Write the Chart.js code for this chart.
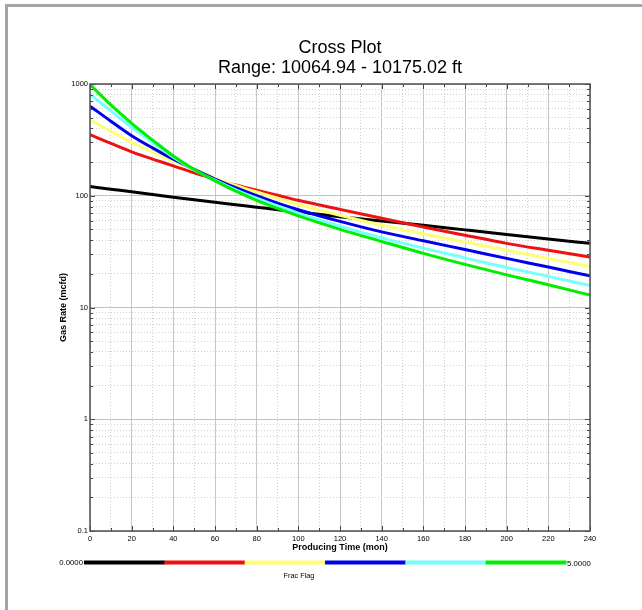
<!DOCTYPE html>
<html><head><meta charset="utf-8">
<script src="https://cdn.jsdelivr.net/npm/chart.js@4.4.0/dist/chart.umd.min.js"></script>
<style>html,body{margin:0;padding:0;background:#fff;}#wrap{position:absolute;left:0;top:0;width:642px;height:610px;}</style>
</head><body><div id="wrap"><canvas id="c" width="642" height="610"></canvas></div>
<script>
// ---- data ----
const months = [0,10,20,30,40,50,60,70,80,90,100,120,140,160,180,200,220,240];
const rateFlag0 = [121,114.5,108.5,102.5,97,92,87.5,83,79,75,71.5,65,59.5,54.5,49.5,45,41,37.5];
const rateFlag1 = [352,294,247,213,185,160,141,125,112,101,91,75.5,63,52.5,44.3,37.5,32.5,28.3];
const rateFlag2 = [481,378,300,246,204,171,145,124,108,95,83.5,67,54.5,45.5,38.5,32.5,27.5,23.3];
const rateFlag3 = [634,465,345,268,212,172,141,118,100,86,75,59,47.5,39.5,33,27.5,23,19.2];
const rateFlag4 = [807,575,410,300,221,170,138,113,95,81,70,53.5,42,34,27.8,22.8,19,15.7];
const rateFlag5 = [990,650,445,315,227,172,136,110,91,77,66,50,39,30.5,24.3,19.6,16,12.9];
const seriesNames = ['Frac Flag 0','Frac Flag 1','Frac Flag 2','Frac Flag 3','Frac Flag 4','Frac Flag 5'];
const seriesColors = ['#000000','#ee1111','#ffff77','#0000ee','#77ffff','#00ee00'];
const xTickValues = [0,10,20,30,40,50,60,70,80,90,100,110,120,130,140,150,160,170,180,190,200,210,220,230,240];
const yDecades = [0.1,1,10,100,1000];
const yTickLabels = ['0.1','1','10','100','1000'];
const fracFlagMin = 0, fracFlagMax = 5;
const titleLines = ['Cross Plot','Range: 10064.94 - 10175.02 ft'];

const allSeries = [rateFlag0,rateFlag1,rateFlag2,rateFlag3,rateFlag4,rateFlag5];
const yGridValues = [];
yDecades.forEach((d,i)=>{ yGridValues.push(d); if(i<yDecades.length-1){ for(let m=2;m<=9;m++) yGridValues.push(+(d*m).toPrecision(6)); } });
const isDecade = v => Math.abs(Math.log10(v)-Math.round(Math.log10(v)))<1e-9;
const FONT = "'Liberation Sans', Arial, sans-serif";

const datasets = allSeries.map((arr,i)=>({
  label: seriesNames[i],
  data: months.map((m,j)=>({x:m,y:arr[j]})),
  borderColor: seriesColors[i],
  backgroundColor: seriesColors[i],
  borderWidth: 3,
  pointRadius: 0,
  fill: false,
  cubicInterpolationMode: 'monotone',
  order: allSeries.length - i
}));

const decorPlugin = {
  id: 'decor',
  beforeDraw(chart){
    const c = chart.ctx;
    c.save();
    c.fillStyle = '#ffffff'; c.fillRect(0,0,chart.width,chart.height);
    c.fillStyle = '#a2a6aa';
    c.fillRect(5,4,chart.width-5,3);
    c.fillRect(5,4,3,chart.height-4);
    c.restore();
  },
  afterDraw(chart){
    const c = chart.ctx, a = chart.chartArea, xs = chart.scales.x, ys = chart.scales.y;
    c.save();
    c.strokeStyle = '#444444'; c.lineWidth = 1;
    xTickValues.forEach(v=>{
      const px = Math.round(xs.getPixelForValue(v))+0.5;
      const len = v%20===0 ? 5 : 3;
      c.beginPath();
      c.moveTo(px,a.bottom); c.lineTo(px,a.bottom-len);
      c.moveTo(px,a.top); c.lineTo(px,a.top+len);
      c.stroke();
    });
    yGridValues.forEach(v=>{
      const py = Math.round(ys.getPixelForValue(v))+0.5;
      const len = isDecade(v) ? 5 : 3;
      c.beginPath();
      c.moveTo(a.left,py); c.lineTo(a.left+len,py);
      c.moveTo(a.right,py); c.lineTo(a.right-len,py);
      c.stroke();
    });
    c.lineWidth = 1.5; c.strokeStyle = '#505050';
    c.strokeRect(a.left,a.top,a.right-a.left,a.bottom-a.top);
    // colour bar for Frac Flag
    const x0 = 84, x1 = 566, yb = 560.5, hb = 4;
    const n = seriesColors.length, w = (x1-x0)/n;
    seriesColors.forEach((col,i)=>{ c.fillStyle = col; c.fillRect(x0+i*w, yb, w+0.5, hb); });
    c.fillStyle = '#000';
    c.font = '7.8px ' + FONT;
    c.textBaseline = 'middle';
    c.textAlign = 'right'; c.fillText(fracFlagMin.toFixed(4), x0-1, yb+hb/2+0.5);
    c.textAlign = 'left'; c.fillText(fracFlagMax.toFixed(4), x1+1, yb+hb/2+1.5);
    c.textAlign = 'center'; c.font = '7.3px ' + FONT; c.fillText('Frac Flag', 299, 576);
    c.restore();
  }
};

new Chart(document.getElementById('c'), {
  type: 'line',
  data: { datasets },
  options: {
    responsive: false,
    animation: false,
    layout: { padding: { left: 58.1, right: 52, top: 0, bottom: 56.6 } },
    plugins: {
      legend: { display: false },
      tooltip: { enabled: false },
      title: {
        display: true, fullSize: false, text: titleLines, color: '#000',
        font: { family: FONT, size: 18, weight: 'normal', lineHeight: 20/18 },
        padding: { top: 38, bottom: 6 }
      }
    },
    scales: {
      x: {
        type: 'linear', min: 0, max: 240,
        afterBuildTicks: s => { s.ticks = xTickValues.map(v=>({value:v})); },
        afterFit: s => { s.height = 22.4; },
        ticks: { autoSkip: false, maxRotation: 0, padding: 3, color: '#000',
          font: { family: FONT, size: 7.5, lineHeight: 1.2 },
          callback: v => (v%20===0 ? String(v) : '') },
        grid: { drawTicks: false, lineWidth: 1,
          color: ctx => (ctx.tick && ctx.tick.value%20!==0) ? '#cfcfcf' : '#c6c6c6' },
        border: { display: false, dash: ctx => (ctx.tick && ctx.tick.value%20!==0) ? [1,2] : [] },
        title: { display: true, text: 'Producing Time (mon)', color: '#000',
          font: { family: FONT, size: 9, weight: 'bold', lineHeight: 1.2 }, padding: { top: 0, bottom: 0 } }
      },
      y: {
        type: 'logarithmic', min: 0.1, max: 1000,
        afterBuildTicks: s => { s.ticks = yGridValues.map(v=>({value:v, major:isDecade(v)})); },
        afterFit: s => { s.width = 31.9; },
        ticks: { autoSkip: false, padding: 2, color: '#000',
          font: { family: FONT, size: 7.5, lineHeight: 1.2 },
          callback: v => { if(!isDecade(v)) return ''; const k = yDecades.findIndex(d=>Math.abs(d-v)/d<1e-6); return k>=0 ? yTickLabels[k] : ''; } },
        grid: { drawTicks: false, lineWidth: 1,
          color: ctx => (ctx.tick && !isDecade(ctx.tick.value)) ? '#d2d2d2' : '#c2c2c2' },
        border: { display: false, dash: ctx => (ctx.tick && !isDecade(ctx.tick.value)) ? [1,2] : [] },
        title: { display: true, text: 'Gas Rate (mcfd)', color: '#000',
          font: { family: FONT, size: 9, weight: 'bold', lineHeight: 1.2 }, padding: { top: 0, bottom: 0 } }
      }
    }
  },
  plugins: [decorPlugin]
});
</script>
</body></html>
